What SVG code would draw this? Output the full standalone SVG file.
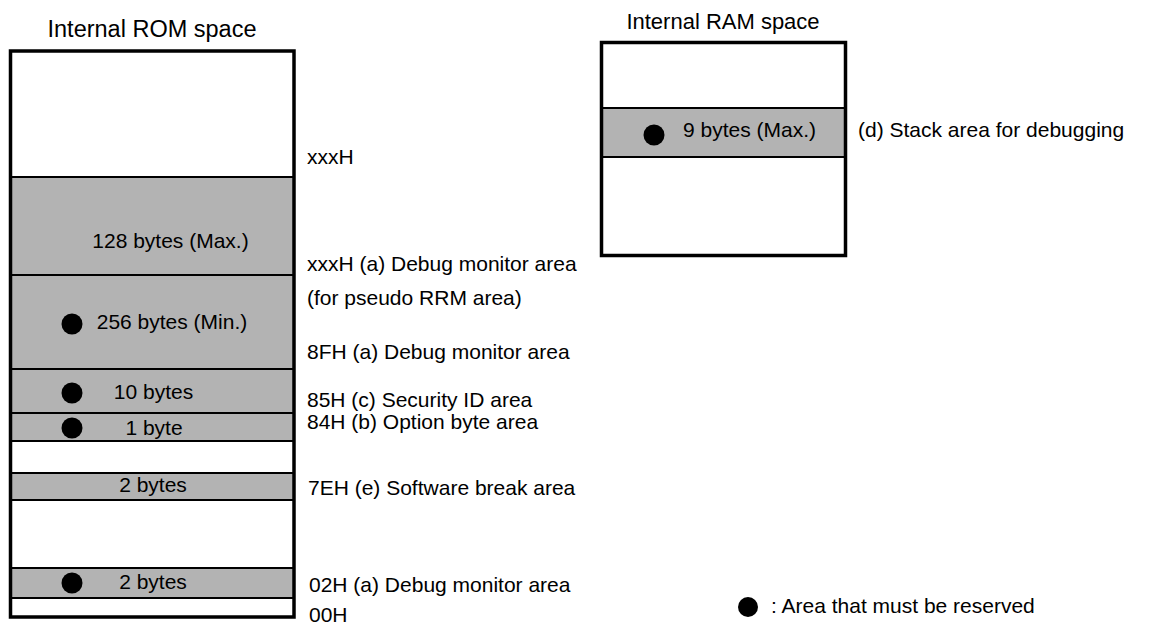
<svg xmlns="http://www.w3.org/2000/svg" width="1155" height="624" viewBox="0 0 1155 624">
<style>
text{font-family:"Liberation Sans",Arial,sans-serif;font-size:21px;fill:#000}
.t{text-anchor:middle}
.m{text-anchor:middle}
.g{fill:#b3b3b3}
.w{fill:#fff}
.ln{stroke:#000;stroke-width:2;fill:none}
.box{fill:none;stroke:#000;stroke-width:3.5}
.dot{fill:#000}
</style>
<rect width="1155" height="624" fill="#fff"/>
<g id="rom">
<text class="t" x="152" y="37" style="font-size:23.5px">Internal ROM space</text>
<rect class="w" x="10.5" y="51" width="283.5" height="126"/>
<rect class="g" x="10.5" y="177" width="283.5" height="98"/>
<rect class="g" x="10.5" y="275" width="283.5" height="94"/>
<rect class="g" x="10.5" y="369" width="283.5" height="44"/>
<rect class="g" x="10.5" y="413" width="283.5" height="28"/>
<rect class="g" x="10.5" y="473" width="283.5" height="27"/>
<rect class="g" x="10.5" y="568" width="283.5" height="30"/>
<path class="ln" d="M10.5 177H294M10.5 275H294M10.5 369H294M10.5 413H294M10.5 441H294M10.5 473H294M10.5 500H294M10.5 568H294M10.5 598H294"/>
<rect class="box" x="10.5" y="51" width="283.5" height="566"/>
<text class="m" x="170.5" y="248">128 bytes (Max.)</text>
<circle class="dot" cx="72" cy="324" r="10.5"/>
<text class="m" x="172" y="329">256 bytes (Min.)</text>
<circle class="dot" cx="72" cy="393" r="10.5"/>
<text class="m" x="153.5" y="399">10 bytes</text>
<circle class="dot" cx="72" cy="428" r="10.5"/>
<text class="m" x="154" y="435">1 byte</text>
<text class="m" x="153" y="492">2 bytes</text>
<circle class="dot" cx="72" cy="583" r="10.5"/>
<text class="m" x="153" y="589">2 bytes</text>
</g>
<g id="rom-labels">
<text x="307" y="164">xxxH</text>
<text x="307" y="271">xxxH (a) Debug monitor area</text>
<text x="307" y="305">(for pseudo RRM area)</text>
<text x="307" y="359">8FH (a) Debug monitor area</text>
<text x="307" y="407">85H (c) Security ID area</text>
<text x="307" y="429">84H (b) Option byte area</text>
<text x="308" y="495">7EH (e) Software break area</text>
<text x="309" y="592">02H (a) Debug monitor area</text>
<text x="309" y="622">00H</text>
</g>
<g id="ram">
<text class="t" x="723" y="29" style="font-size:22px">Internal RAM space</text>
<rect class="g" x="601.5" y="108" width="244" height="49"/>
<path class="ln" d="M601.5 108H845.5M601.5 157H845.5"/>
<rect class="box" x="601.5" y="42.5" width="244" height="213"/>
<circle class="dot" cx="654" cy="135" r="10.5"/>
<text x="683" y="137">9 bytes (Max.)</text>
<text x="858" y="137">(d) Stack area for debugging</text>
</g>
<g id="legend">
<circle class="dot" cx="748" cy="607" r="10"/>
<text x="771" y="613">: Area that must be reserved</text>
</g>
</svg>
